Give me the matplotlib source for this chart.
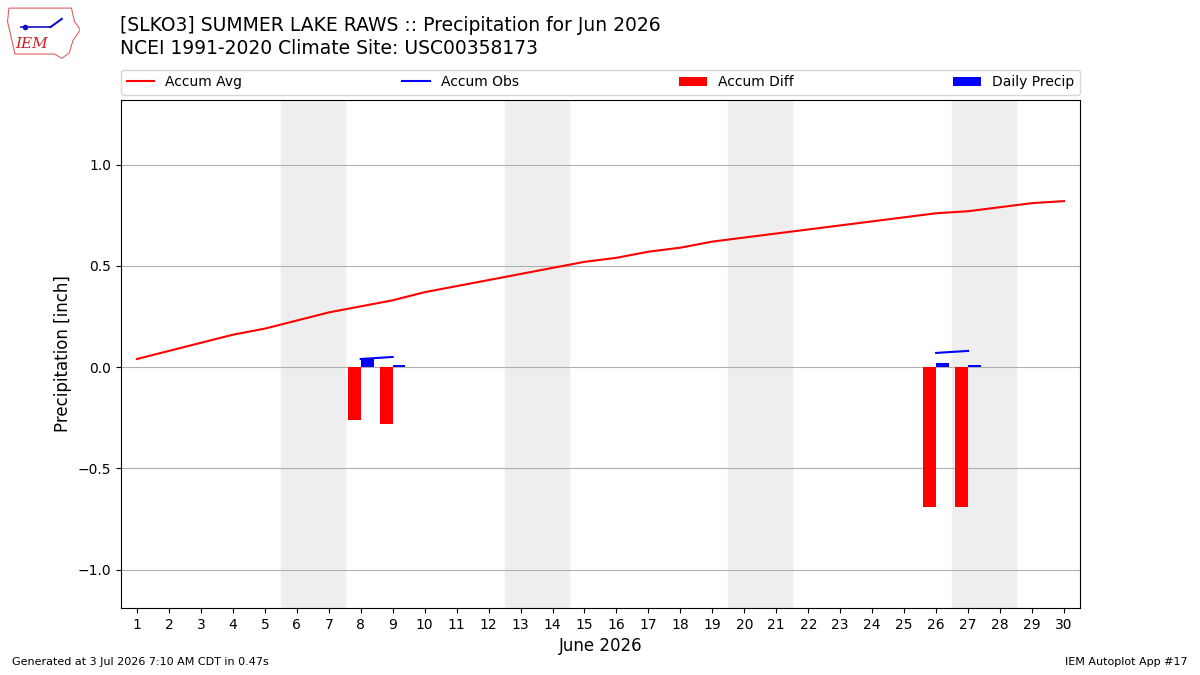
"""
Monthly precipitation plot: accumulated average vs observed, with daily bars.
"""

import numpy as np
import matplotlib.pyplot as plt
from matplotlib.patches import Polygon

days = list(range(1, 31))
accum_avg = [0.04, 0.08, 0.12, 0.16, 0.19, 0.23, 0.27, 0.30, 0.33, 0.37,
             0.40, 0.43, 0.46, 0.49, 0.52, 0.54, 0.57, 0.59, 0.62, 0.64,
             0.66, 0.68, 0.70, 0.72, 0.74, 0.76, 0.77, 0.79, 0.81, 0.82]
obs_days = [8, 9, 26, 27]
daily_precip = [0.04, 0.01, 0.02, 0.01]
accum_obs = [0.04, 0.05, 0.07, 0.08]
weekends = [(6, 7), (13, 14), (20, 21), (27, 28)]

fig = plt.figure(figsize=(12, 6.75), dpi=100)
ax = fig.add_axes([0.1008, 0.0993, 0.7992, 0.7527])

for start, end in weekends:
    ax.axvspan(start - 0.5, end + 0.5, color='#eeeeee', zorder=0)

ax.plot(days, accum_avg, color='r', lw=1.5, label='Accum Avg', zorder=3)

# observed accum line only where consecutive obs exist
avg_lookup = dict(zip(days, accum_avg))
for seg in ([0, 1], [2, 3]):
    ax.plot([obs_days[i] for i in seg], [accum_obs[i] for i in seg],
            color='b', lw=1.5, label='Accum Obs' if seg[0] == 0 else None, zorder=3)

diff = [o - avg_lookup[d] for d, o in zip(obs_days, accum_obs)]
ax.bar(obs_days, diff, width=-0.4, align='edge', color='r', label='Accum Diff', zorder=2)
ax.bar(obs_days, daily_precip, width=0.4, align='edge', color='b', label='Daily Precip', zorder=2)

ax.set_xlim(0.5, 30.5)
ax.set_ylim(-1.19, 1.32)
ax.set_xticks(days)
ax.set_yticks([-1.0, -0.5, 0.0, 0.5, 1.0])
ax.tick_params(labelsize=10)
ax.grid(True, axis='y', color='#b0b0b0', lw=0.8)
ax.set_axisbelow(True)
ax.set_xlabel('June 2026', fontsize=12)
ax.set_ylabel('Precipitation [inch]', fontsize=12)

ax.legend(bbox_to_anchor=(0, 1.01, 1, 0.05), loc='lower left', ncol=4,
          mode='expand', borderaxespad=0, fontsize=10)

fig.text(0.1, 0.962, '[SLKO3] SUMMER LAKE RAWS :: Precipitation for Jun 2026',
         fontsize=13.5, va='center')
fig.text(0.1, 0.928, 'NCEI 1991-2020 Climate Site: USC00358173',
         fontsize=13.5, va='center')

fig.text(0.01, 0.015, 'Generated at 3 Jul 2026 7:10 AM CDT in 0.47s', fontsize=8)
fig.text(0.99, 0.015, 'IEM Autoplot App #17', fontsize=8, ha='right')

# rough IEM logo
lax = fig.add_axes([0.005, 0.912, 0.062, 0.08])
lax.set_xlim(0, 1)
lax.set_ylim(0, 1)
lax.axis('off')
iowa = [(0.04, 0.95), (0.88, 0.95), (0.92, 0.7), (1.0, 0.55), (0.9, 0.35),
        (0.85, 0.12), (0.75, 0.02), (0.65, 0.1), (0.12, 0.1), (0.08, 0.35),
        (0.02, 0.7)]
lax.add_patch(Polygon(iowa, closed=True, fill=False, ec='#e06060', lw=0.8))
lax.text(0.35, 0.28, 'IEM', color='#d02020', fontsize=11, family='serif',
         style='italic', ha='center', va='center')
lax.plot([0.2, 0.6], [0.6, 0.6], color='#1010c0', lw=1.2)
lax.plot([0.6, 0.75], [0.6, 0.75], color='#1010c0', lw=1.5)
lax.plot([0.25], [0.6], 'o', color='#1010c0', ms=3)

fig.savefig('out.png', dpi=100)
